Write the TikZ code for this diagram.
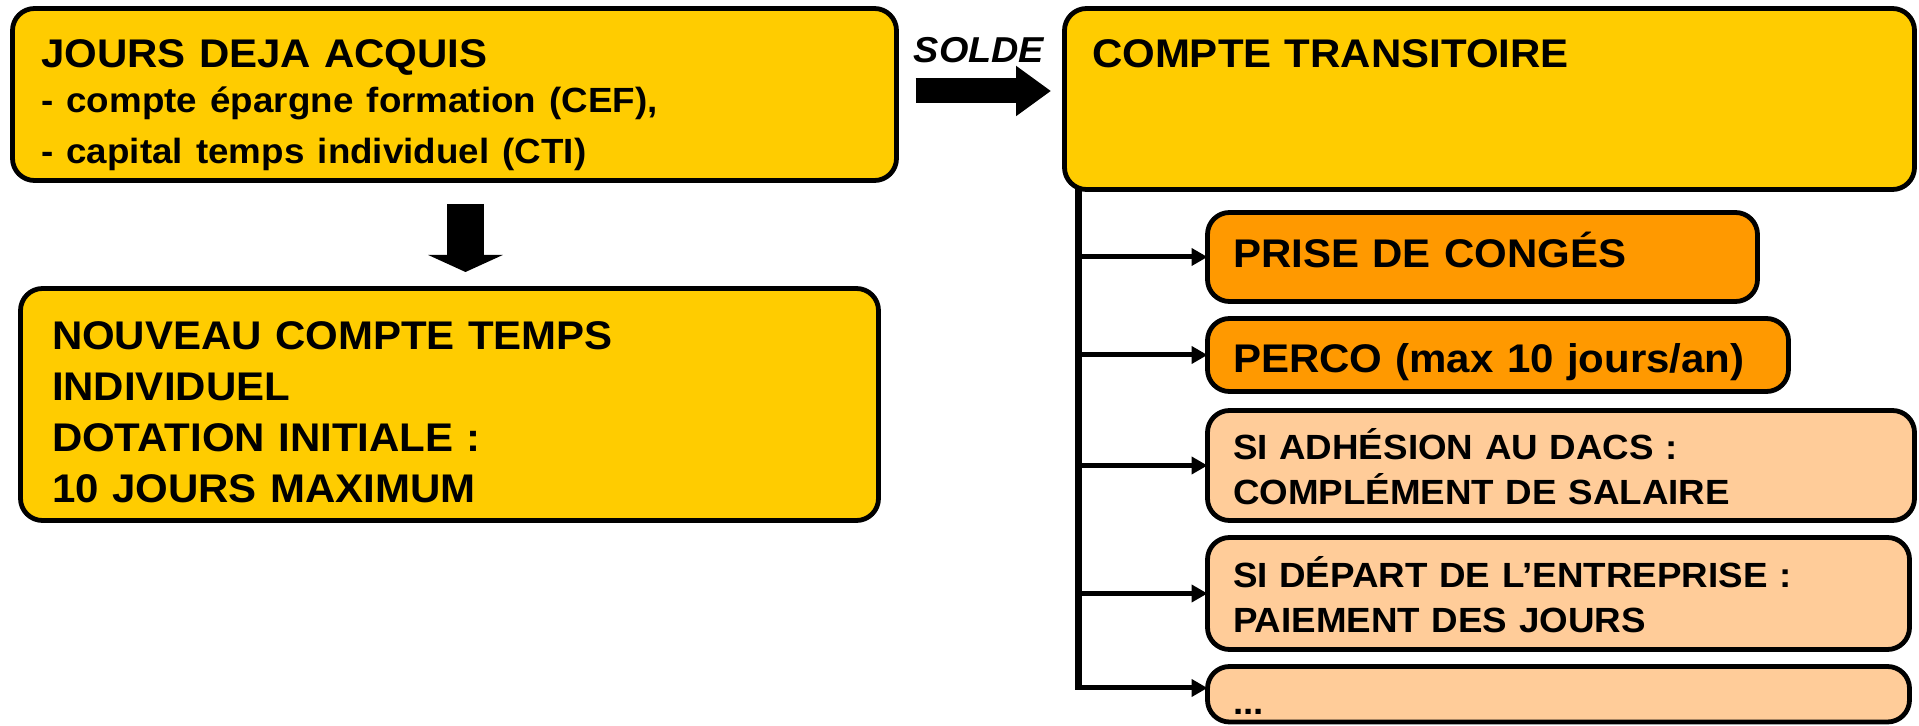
\documentclass[tikz,border=0pt]{standalone}
\usepackage{fontspec}
\setmainfont{Liberation Sans}[FakeStretch=1.05]
\usetikzlibrary{arrows.meta, calc, positioning}

\definecolor{jaune}{HTML}{FFCC00}
\definecolor{orangevif}{HTML}{FF9900}
\definecolor{peche}{HTML}{FFCC99}

\newcommand{\grandtexte}{\fontsize{20pt}{25.5pt}\selectfont}
\newcommand{\moyentexte}{\fontsize{17.5pt}{22.3pt}\selectfont}

\begin{document}
\begin{tikzpicture}[
    x=0.5pt, y=-0.5pt,
    boite/.style={draw, line width=2.4pt, rounded corners=11pt, anchor=north west, align=left,
        inner ysep=0pt, outer sep=0pt, font=\bfseries\grandtexte},
    compte/.style={boite, fill=jaune},
    choix/.style={boite, fill=orangevif, inner xsep=12.75pt},
    sortie/.style={boite, fill=peche, inner xsep=12.75pt, font=\bfseries\moyentexte},
    solde/.style={inner sep=0pt, font=\bfseries\itshape\fontsize{18pt}{20pt}\selectfont},
    grosse fleche/.style={line width=12.5pt, -{Triangle[length=17.5pt, width=24pt]}},
    fleche descente/.style={line width=18.5pt, -{Triangle[length=8.5pt, width=37pt]}},
    bus/.style={line width=3.2pt},
    branche/.style={line width=2.5pt, -{Triangle[length=8pt, width=8.5pt]}}
]
\useasboundingbox (0,0) rectangle (1919,726);

% comptes de depart
\node[compte, inner xsep=14.25pt, text width=413.5pt, text height=29.75pt, text depth=56.25pt] (acquis) at (12.5,8.5)
    {JOURS DEJA ACQUIS\\\moyentexte - compte épargne formation (CEF),\\- capital temps individuel (CTI)};
\node[compte, inner xsep=13.75pt, text width=397.5pt, text height=29.75pt, text depth=60.75pt] (transit) at (1064.5,8.5)
    {COMPTE TRANSITOIRE};
\node[compte, inner xsep=15.75pt, text width=397.5pt, text height=30.75pt, text depth=85.25pt] (nouveau) at (20.5,288.5)
    {NOUVEAU COMPTE TEMPS\\INDIVIDUEL\\DOTATION INITIALE :\\10 JOURS MAXIMUM};

% utilisations du compte transitoire
\node[choix, text width=249.5pt, text height=27.75pt, text depth=16.75pt] (conges) at (1207.5,212.5) {PRISE DE CONGÉS};
\node[choix, text width=265pt, text height=27.25pt, text depth=9.25pt] (perco) at (1207.5,318.5) {PERCO (max 10 jours/an)};
\node[sortie, text width=328pt, text height=24.75pt, text depth=30.25pt] (dacs) at (1207.5,410.5)
    {SI ADHÉSION AU DACS :\\COMPLÉMENT DE SALAIRE};
\node[sortie, text width=325.5pt, text height=25.25pt, text depth=30.75pt] (depart) at (1207.5,537.5)
    {SI DÉPART DE L’ENTREPRISE :\\PAIEMENT DES JOURS};
\node[sortie, text width=325.5pt, text height=24.25pt, text depth=3.5pt] (autres) at (1207.5,666.5) {...};

% grosses fleches
\draw[grosse fleche] ($(acquis.east)+(19,-3.5)$) -- ($(transit.west)+(-13.5,-8)$);
\node[solde, anchor=base] (soldelabel) at (979,63) {SOLDE};
\draw[fleche descente] ($(acquis.south)+(11,23.5)$) -- ($(nouveau.north)+(16,-16.5)$);

% bus vers les utilisations
\coordinate (busbas) at (1078.5,690.5);
\coordinate (coin) at (1076.9,688);
\draw[bus] (transit.south -| busbas) -- (busbas);
\draw[branche] (busbas |- conges.west) -- (conges.west);
\draw[branche] (busbas |- perco.west) -- (perco.west);
\draw[branche] (busbas |- dacs.west) -- (dacs.west);
\draw[branche] (busbas |- depart.west) -- (depart.west);
\draw[branche] (coin) -- (coin -| autres.west);

\end{tikzpicture}
\end{document}
